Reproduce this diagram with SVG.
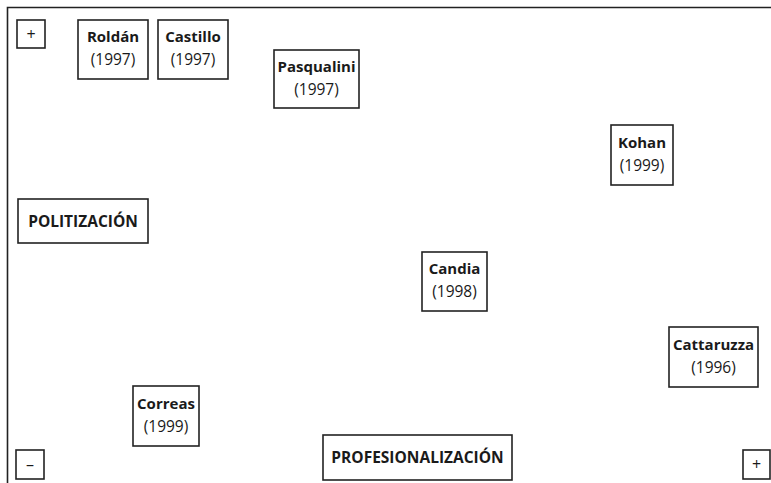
<svg xmlns="http://www.w3.org/2000/svg" width="771" height="483" viewBox="0 0 771 483">
<style>
.box{fill:#fff;stroke:#222;stroke-width:1.6}
.frame{fill:none;stroke:#222;stroke-width:1.6}
text{font-family:"Open Sans","Noto Sans",sans-serif;fill:#1a1a1a;text-anchor:middle}
.n{font-weight:bold;font-size:15px}
.c{font-weight:bold;font-size:15.5px}
.y{font-size:15.5px}
.s{font-size:16px}
</style>
<rect width="771" height="483" fill="#fff"/>
<g id="frame"><path class="frame" d="M7.5,483 V7.5 H771"/></g>
<g id="connectors"></g>
<g id="plus-top"><rect class="box" x="17" y="20" width="28" height="28"/><text class="s" x="31" y="39.5">+</text></g>
<g id="roldan"><rect class="box" x="78" y="20" width="70" height="59"/><text class="n" x="113" y="42">Roldán</text><text class="y" x="113" y="65">(1997)</text></g>
<g id="castillo"><rect class="box" x="158" y="20" width="70" height="59"/><text class="n" x="193" y="42">Castillo</text><text class="y" x="193" y="65">(1997)</text></g>
<g id="pasqualini"><rect class="box" x="274" y="50" width="85" height="58"/><text class="n" x="316.5" y="72">Pasqualini</text><text class="y" x="316.5" y="95">(1997)</text></g>
<g id="kohan"><rect class="box" x="611" y="125" width="62" height="60"/><text class="n" x="642" y="148">Kohan</text><text class="y" x="642" y="171">(1999)</text></g>
<g id="politizacion"><rect class="box" x="18" y="199" width="130" height="44"/><text class="c" x="83" y="226.5">POLITIZACIÓN</text></g>
<g id="candia"><rect class="box" x="422" y="252" width="65" height="59"/><text class="n" x="454.5" y="274">Candia</text><text class="y" x="454.5" y="297">(1998)</text></g>
<g id="cattaruzza"><rect class="box" x="669" y="327" width="89" height="60"/><text class="n" x="713.5" y="350">Cattaruzza</text><text class="y" x="713.5" y="373">(1996)</text></g>
<g id="correas"><rect class="box" x="133" y="386" width="66" height="60"/><text class="n" x="166" y="409">Correas</text><text class="y" x="166" y="432">(1999)</text></g>
<g id="minus"><rect class="box" x="16" y="450" width="28" height="29"/><text class="s" x="30" y="469.5">–</text></g>
<g id="profesionalizacion"><rect class="box" x="323" y="435" width="189" height="45"/><text class="c" x="417.5" y="462.5">PROFESIONALIZACIÓN</text></g>
<g id="plus-bottom"><rect class="box" x="743" y="450" width="27" height="29"/><text class="s" x="756.5" y="469.5">+</text></g>
</svg>
